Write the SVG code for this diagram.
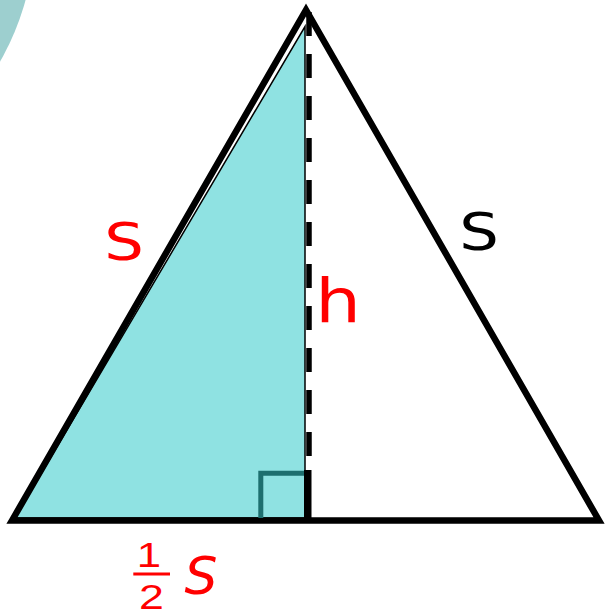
<svg xmlns="http://www.w3.org/2000/svg" width="606" height="616" viewBox="0 0 606 616">
  <style>
    .lbl { font-family: "DejaVu Sans", "Liberation Sans", sans-serif; text-anchor: middle; }
    .red { fill: #ff0000; }
    .blk { fill: #000000; }
  </style>
  <rect width="606" height="616" fill="#ffffff"/>
  <circle id="bg-circle" cx="-230" cy="-70" r="265" fill="#9dcfcf"/>
  <g id="shaded-half">
    <polygon points="15,518 305,26.5 305,518" fill="#8fe2e2" stroke="#000000" stroke-width="1.5"/>
  </g>
  <g id="triangle">
    <polygon points="12,520.5 306,10 599,520.5" fill="none" stroke="#000000" stroke-width="6.5" stroke-linejoin="miter" stroke-miterlimit="10"/>
  </g>
  <g id="connectors">
    <line id="height" x1="309" y1="12" x2="309" y2="470" stroke="#000000" stroke-width="5.5" stroke-dasharray="24 18"/>
    <path id="right-angle" d="M260.8,518 V473.2 H305" fill="none" stroke="#1d6f6f" stroke-width="5"/>
    <rect x="304" y="470" width="7.5" height="50" fill="#000000"/>
  </g>
  <g id="label-s-left">
    <text class="lbl red" font-size="52" transform="translate(124,259.5) scale(1.2,1)">S</text>
  </g>
  <g id="label-s-right">
    <text class="lbl blk" font-size="52" transform="translate(479,249.5) scale(1.2,1)">S</text>
  </g>
  <g id="label-h">
    <text class="lbl red" font-size="60" transform="translate(338,321.7) scale(1.2,1)">h</text>
  </g>
  <g id="label-half-s">
    <text class="red" font-family="Liberation Sans, sans-serif" font-size="35" text-anchor="middle" transform="translate(149,567) scale(1.25,1)">1</text>
    <line x1="133.3" y1="574" x2="170" y2="574" stroke="#ff0000" stroke-width="2.8"/>
    <text class="red" font-family="Liberation Sans, sans-serif" font-size="35" text-anchor="middle" transform="translate(151.5,608.5) scale(1.28,1)">2</text>
    <text class="lbl red" font-size="52" font-style="italic" x="201" y="594.3">S</text>
  </g>
</svg>
